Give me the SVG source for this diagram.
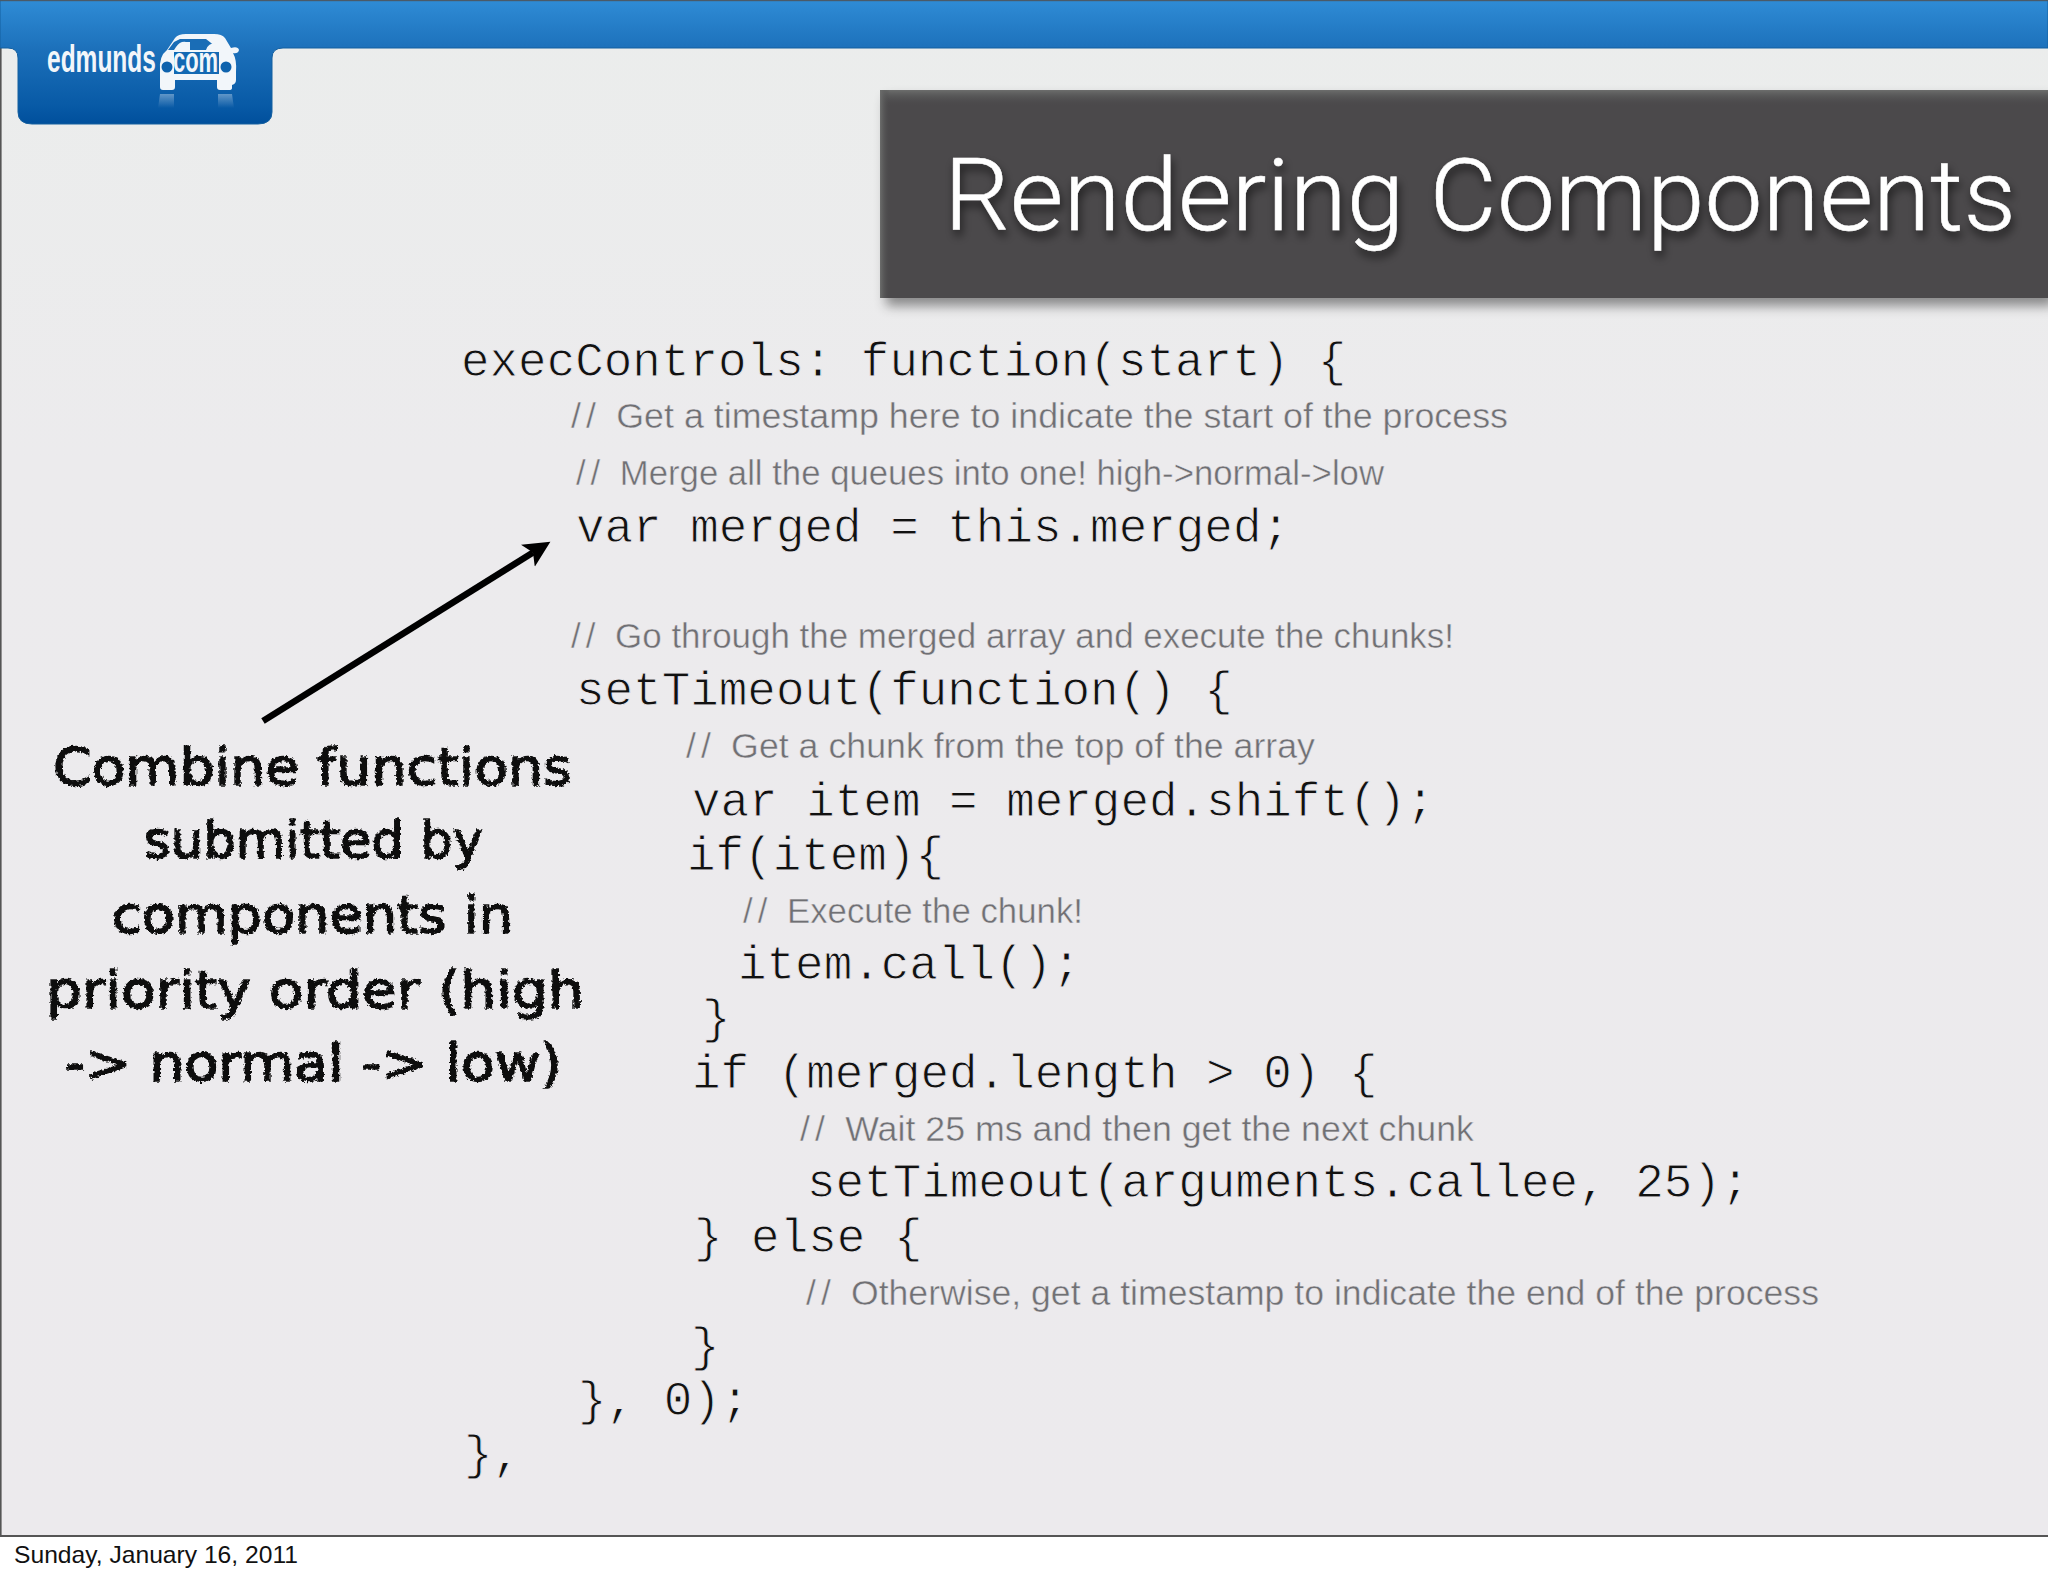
<svg xmlns="http://www.w3.org/2000/svg" width="2048" height="1576" viewBox="0 0 2048 1576">
<style>
.m{font-family:"Liberation Mono","DejaVu Sans Mono",monospace;font-size:47.6px;fill:#111;stroke:#eceaed;stroke-width:.9px}
.c{font-family:"Liberation Sans",Arial,sans-serif;font-size:35px;fill:#707074;stroke:#eceaed;stroke-width:.45px}
.s{letter-spacing:5px}
.h{font-family:"DejaVu Sans",sans-serif;font-size:52px;fill:#0c0c0c;stroke:#0c0c0c;stroke-width:1.4px}
</style>
<defs>
<linearGradient id="bar" gradientUnits="userSpaceOnUse" x1="0" y1="0" x2="0" y2="124">
<stop offset="0" stop-color="#2f8cd6"/><stop offset=".4" stop-color="#1c70ba"/><stop offset=".85" stop-color="#085aa6"/><stop offset="1" stop-color="#004f9c"/>
</linearGradient>
<linearGradient id="bg" x1="0" y1="0" x2="0" y2="1"><stop offset="0" stop-color="#ebedec"/><stop offset=".3" stop-color="#ecebed"/><stop offset="1" stop-color="#eceaed"/></linearGradient>
<linearGradient id="top" x1="0" y1="0" x2="0" y2="1"><stop offset="0" stop-color="#6c6d6c"/><stop offset="1" stop-color="#4b4b4c" stop-opacity="0"/></linearGradient>
<linearGradient id="left" x1="0" y1="0" x2="1" y2="0"><stop offset="0" stop-color="#6c6d6c"/><stop offset="1" stop-color="#4b4b4c" stop-opacity="0"/></linearGradient>
<filter id="panelShadow" x="-5%" y="-10%" width="110%" height="125%"><feDropShadow dx="6" dy="8" stdDeviation="6" flood-color="#000" flood-opacity=".42"/></filter>
<filter id="titleShadow" x="-5%" y="-20%" width="110%" height="150%"><feDropShadow dx="2" dy="6" stdDeviation="5" flood-color="#000" flood-opacity=".6"/></filter>
<filter id="chalk" x="-5%" y="-10%" width="110%" height="120%"><feTurbulence type="fractalNoise" baseFrequency=".35" numOctaves="2" seed="4" result="n"/><feDisplacementMap in="SourceGraphic" in2="n" scale="5" xChannelSelector="R" yChannelSelector="G"/></filter>
<linearGradient id="refl" x1="0" y1="0" x2="0" y2="1"><stop offset="0" stop-color="#fff" stop-opacity=".35"/><stop offset="1" stop-color="#fff" stop-opacity="0"/></linearGradient>
<marker id="head" markerUnits="userSpaceOnUse" markerWidth="32" markerHeight="32" refX="6" refY="16" orient="auto"><path d="M26.5,16 L0,3 L6,16 L0,29 Z" fill="#000"/></marker>
</defs>
<rect id="page" width="2048" height="1576" fill="#fff"/>
<g id="slide">
<rect x="0" y="0" width="2048" height="1536" fill="url(#bg)"/>
<rect x="0" y="0" width="1.6" height="1536" fill="#555"/>
<rect x="0" y="1535" width="2048" height="2" fill="#555"/>
</g>
<g id="header">
<path d="M0,0H2048V48H283Q272,48 272,58V112Q272,124 258,124H32Q18,124 18,112V58Q18,48 8,48H0Z" fill="url(#bar)" stroke="#15609f" stroke-width="1"/>
<rect x="0" y="0" width="2048" height="1.2" fill="#4a5a68"/>
</g>
<g id="logo">
<text transform="translate(47,72) scale(.645,1)" font-family="'Liberation Sans',sans-serif" font-weight="700" font-size="38" fill="#f2f6fa">edmunds</text>
<path d="M160,70Q159,56 167,50L175,38Q178,34 186,34H214Q222,34 225,38L231,48Q238,46 239,50Q238,54 233,53Q237,60 236,72V80Q236,84 232,85V88Q232,90 229,90H220Q217,90 217,87V80H175V87Q175,90 172,90H163Q160,90 160,87Z" fill="#f2f6fa"/>
<path d="M180,39H206L220,50H168L174,42Z" fill="#1a6db6"/>
<path d="M176,47Q180,41 186,42H190V50H174ZM206,50Q208,43 216,43Q221,44 223,50Z" fill="#f2f6fa"/>
<circle cx="167" cy="67" r="5.5" fill="#0e62ad"/><circle cx="226" cy="67" r="5.5" fill="#0e62ad"/>
<rect x="174" y="52" width="45" height="22" fill="#1369b3"/>
<text transform="translate(173,72) scale(.61,1)" font-family="'Liberation Sans',sans-serif" font-weight="700" font-size="36" fill="#f2f6fa">com</text>
<path d="M160,94H174V108H158ZM218,94H232L234,108H218Z" fill="url(#refl)"/>
</g>
<g id="title-panel">
<rect x="880" y="90" width="1168" height="208" fill="#4b4a4c" filter="url(#panelShadow)"/>
<rect x="880" y="90" width="1168" height="16" fill="url(#top)"/>
<rect x="880" y="90" width="10" height="208" fill="url(#left)"/>
<text x="944" y="230" font-family="Roboto,'Liberation Sans',sans-serif" font-weight="300" font-size="101" fill="#fff" stroke="#fff" stroke-width=".5" textLength="1072" lengthAdjust="spacingAndGlyphs" filter="url(#titleShadow)">Rendering Components</text>
</g>
<g id="code">
<text class="m" x="461" y="375.5">execControls: function(start) {</text>
<text class="c" x="571" y="428" textLength="937" lengthAdjust="spacingAndGlyphs"><tspan class="s">// </tspan>Get a timestamp here to indicate the start of the process</text>
<text class="c" x="576" y="484.5" textLength="808" lengthAdjust="spacingAndGlyphs"><tspan class="s">// </tspan>Merge all the queues into one! high-&gt;normal-&gt;low</text>
<text class="m" x="576" y="541.5">var merged = this.merged;</text>
<text class="c" x="571" y="648" textLength="883" lengthAdjust="spacingAndGlyphs"><tspan class="s">// </tspan>Go through the merged array and execute the chunks!</text>
<text class="m" x="576" y="704.5">setTimeout(function() {</text>
<text class="c" x="686" y="758" textLength="629" lengthAdjust="spacingAndGlyphs"><tspan class="s">// </tspan>Get a chunk from the top of the array</text>
<text class="m" x="692" y="815.5">var item = merged.shift();</text>
<text class="m" x="687" y="869.5">if(item){</text>
<text class="c" x="743" y="923" textLength="340" lengthAdjust="spacingAndGlyphs"><tspan class="s">// </tspan>Execute the chunk!</text>
<text class="m" x="738" y="979">item.call();</text>
<text class="m" x="702" y="1033">}</text>
<text class="m" x="692" y="1088">if (merged.length &gt; 0) {</text>
<text class="c" x="800" y="1141" textLength="674" lengthAdjust="spacingAndGlyphs"><tspan class="s">// </tspan>Wait 25 ms and then get the next chunk</text>
<text class="m" x="807" y="1197">setTimeout(arguments.callee, 25);</text>
<text class="m" x="694" y="1252">} else {</text>
<text class="c" x="806" y="1305" textLength="1013" lengthAdjust="spacingAndGlyphs"><tspan class="s">// </tspan>Otherwise, get a timestamp to indicate the end of the process</text>
<text class="m" x="691" y="1361">}</text>
<text class="m" x="578" y="1415">}, 0);</text>
<text class="m" x="464" y="1469">},</text>
</g>
<g id="connectors">
<line x1="263" y1="721" x2="533" y2="552.6" stroke="#000" stroke-width="6.5" marker-end="url(#head)"/>
</g>
<g id="callout" filter="url(#chalk)">
<text class="h" x="53" y="785" textLength="519" lengthAdjust="spacingAndGlyphs">Combine functions</text>
<text class="h" x="144" y="858" textLength="339" lengthAdjust="spacingAndGlyphs">submitted by</text>
<text class="h" x="112" y="933" textLength="401" lengthAdjust="spacingAndGlyphs">components in</text>
<text class="h" x="46" y="1008" textLength="538" lengthAdjust="spacingAndGlyphs">priority order (high</text>
<text class="h" x="65" y="1081" textLength="497" lengthAdjust="spacingAndGlyphs">-&gt; normal -&gt; low)</text>
</g>
<text id="date" x="14" y="1563" font-family="'Liberation Sans',Arial,sans-serif" font-size="24" fill="#111" textLength="284" lengthAdjust="spacingAndGlyphs">Sunday, January 16, 2011</text>
</svg>
